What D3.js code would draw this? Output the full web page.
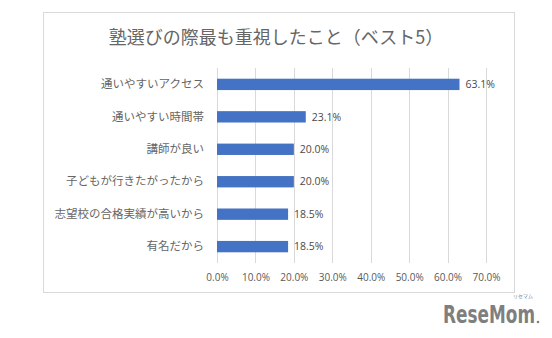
<!DOCTYPE html>
<html><head><meta charset="utf-8">
<script src="https://cdn.jsdelivr.net/npm/d3@7"></script>
<style>body{margin:0;background:#fff;}svg{display:block;}</style>
</head><body>
<svg id="c" width="552" height="338"></svg>
<script>
const title = "塾選びの際最も重視したこと（ベスト5）";
const categories = ["通いやすいアクセス","通いやすい時間帯","講師が良い","子どもが行きたがったから","志望校の合格実績が高いから","有名だから"];
const values = [63.1, 23.1, 20.0, 20.0, 18.5, 18.5];
const xTicks = [0,10,20,30,40,50,60,70];

const svg = d3.select("#c");
const jp = "'Noto Sans CJK JP','Noto Sans',sans-serif";

// frame
svg.append("rect").attr("x",43.5).attr("y",12.5).attr("width",471).attr("height",280)
  .attr("fill","#fff").attr("stroke","#d9d9d9").attr("stroke-width",1);

svg.append("text").attr("x",276).attr("y",44).attr("text-anchor","middle")
  .attr("font-family",jp).attr("font-size",18).attr("fill","#666666").text(title);

const x = d3.scaleLinear().domain([0,70]).range([217,486]);
const y = d3.scaleBand().domain(categories).range([68,263]).paddingInner(0.65).paddingOuter(0.33);

// gridlines
svg.append("g").selectAll("line").data(xTicks).join("line")
  .attr("x1",d=>Math.round(x(d))+0.5).attr("x2",d=>Math.round(x(d))+0.5)
  .attr("y1",68).attr("y2",263).attr("stroke","#d9d9d9").attr("stroke-width",1);

// x axis labels
const xa = svg.append("g").attr("transform","translate(0,263)")
  .call(d3.axisBottom(x).tickValues(xTicks).tickSize(0).tickPadding(11).tickFormat(d=>d.toFixed(1)+"%"));
xa.select(".domain").remove();
xa.selectAll("text").attr("font-family","'Open Sans','Noto Sans',sans-serif").attr("font-size",10).attr("fill","#595959");

// y axis labels
const ya = svg.append("g").attr("transform","translate(210,0)")
  .call(d3.axisLeft(y).tickSize(0).tickPadding(6));
ya.select(".domain").remove();
ya.selectAll("text").attr("font-family",jp).attr("font-size",11.5).attr("fill","#666666");

// bars
svg.append("g").selectAll("rect").data(values).join("rect")
  .attr("x",x(0)).attr("y",(d,i)=>y(categories[i]))
  .attr("width",d=>x(d)-x(0)).attr("height",y.bandwidth())
  .attr("fill","#4472c4");

// value labels
svg.append("g").selectAll("text").data(values).join("text")
  .attr("x",d=>x(d)+6).attr("y",(d,i)=>y(categories[i])+y.bandwidth()/2)
  .attr("dy","0.35em").attr("font-family","'Open Sans','Noto Sans',sans-serif")
  .attr("font-size",10.5).attr("font-weight",500).attr("fill","#4a4a4a")
  .text(d=>d.toFixed(1)+"%");

// logo
const logo = svg.append("text").attr("x",0).attr("y",0)
  .attr("font-family","'Liberation Sans Narrow','DejaVu Sans Condensed',sans-serif")
  .attr("font-size",24).attr("font-weight",700).attr("fill","#7f7f7f").text("ReseMom");
const lw = logo.node().getComputedTextLength();
let fs = 24;
if (lw > 92) { fs = 24*92/lw; logo.attr("font-size", fs); }
logo.attr("transform", `translate(443,323) scale(1,${(25/fs).toFixed(3)})`);
svg.append("text").attr("x",533).attr("y",297.5).attr("text-anchor","end").attr("font-family",jp)
  .attr("font-size",5).attr("fill","#7f7f7f").text("リセマム");
svg.append("circle").attr("cx",538).attr("cy",322).attr("r",1.3).attr("fill","#7f7f7f");
</script>
</body></html>
